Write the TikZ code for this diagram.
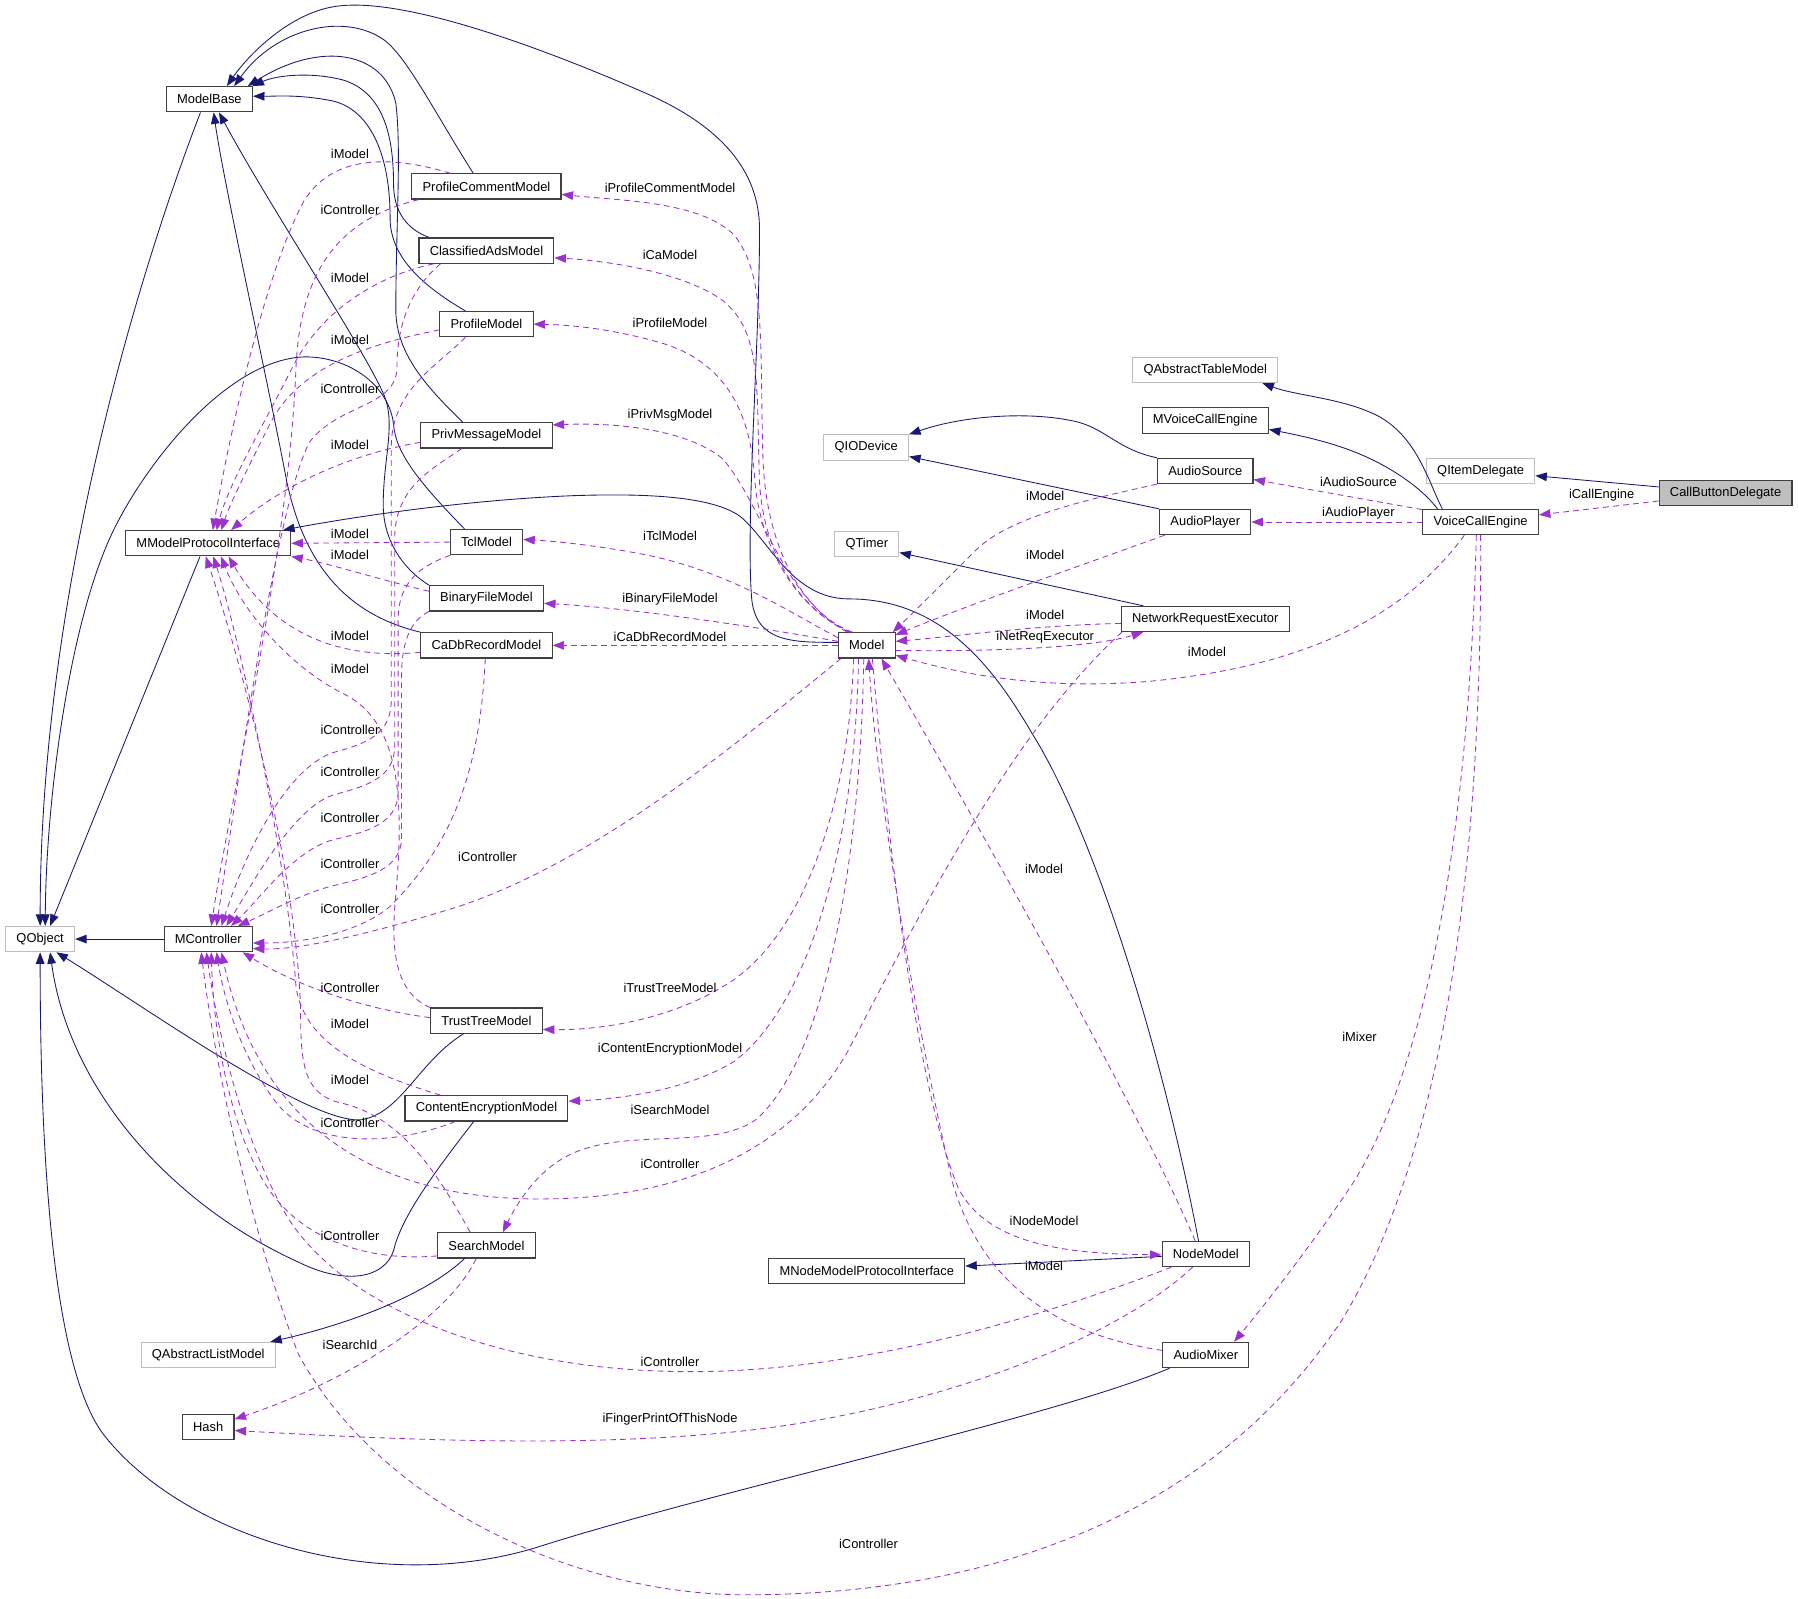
\documentclass[tikz,border=0pt]{standalone}
\usepackage{fontspec}
\setmainfont{Liberation Sans}
\usetikzlibrary{arrows.meta}
\definecolor{navy}{HTML}{191970}
\definecolor{orchid}{HTML}{9A32CD}
\definecolor{lightgray}{HTML}{BFBFBF}
\definecolor{boxline}{HTML}{404040}

\begin{document}
\begin{tikzpicture}[x=0.8pt, y=-0.8pt, font=\fontsize{9}{10}\selectfont,
    cls/.style={draw=boxline, fill=white, line width=0.8pt, minimum height=17.6pt, inner xsep=7.5pt, inner ysep=0pt},
    ext/.style={cls, draw=lightgray},
    sel/.style={cls, fill=lightgray},
    lbl/.style={inner sep=0pt},
    inherit/.style={draw=navy, line width=0.6pt, -{Triangle[length=8pt,width=6pt]}},
    member/.style={draw=orchid, line width=0.6pt, dash pattern=on 4pt off 3pt, -{Triangle[length=8pt,width=6pt]}}]
  \useasboundingbox (0,0) rectangle (1568,1393);

  \foreach \nm/\yy/\txt in {pcm/162.5/ProfileCommentModel, cam/218.5/ClassifiedAdsModel,
      pm/282.5/ProfileModel, pmm/379.5/PrivMessageModel, tcl/472.5/TclModel,
      bfm/521.5/BinaryFileModel, cadb/562.5/CaDbRecordModel, ttm/889.5/TrustTreeModel,
      cem/966/ContentEncryptionModel, search/1085.5/SearchModel}
    \node[cls] (\nm) at (424,\yy) {\txt};
  \node[cls] (mbase) at (182.5,86.5) {ModelBase};
  \node[cls] (mmpi) at (181.5,473.5) {MModelProtocolInterface};
  \node[cls] (mctrl) at (181.5,818.5) {MController};
  \node[ext] (qobj) at (35,818.5) {QObject};
  \node[ext] (qalm) at (181.5,1181) {QAbstractListModel};
  \node[cls] (hash) at (181.5,1244) {Hash};
  \node[cls] (model) at (755.5,562.5) {Model};
  \node[ext] (qiodev) at (755,390) {QIODevice};
  \node[ext] (qtimer) at (755.5,474) {QTimer};
  \node[cls] (mnmpi) at (755.5,1108) {MNodeModelProtocolInterface};
  \node[ext] (qatm) at (1050.5,322.5) {QAbstractTableModel};
  \node[cls] (mvce) at (1050.5,366.5) {MVoiceCallEngine};
  \node[cls] (asrc) at (1050.5,410.5) {AudioSource};
  \node[cls] (aplay) at (1050.5,455) {AudioPlayer};
  \node[cls] (nre) at (1050.5,539.5) {NetworkRequestExecutor};
  \node[cls] (nodem) at (1051,1093) {NodeModel};
  \node[cls] (mixer) at (1051,1181) {AudioMixer};
  \node[ext] (qitem) at (1290.5,410.5) {QItemDelegate};
  \node[cls] (vce) at (1290.5,455) {VoiceCallEngine};
  \node[sel] (cbd) at (1504,429.5) {CallButtonDelegate};

  \draw[inherit] (mbase.-124) .. controls (120,240) and (35,520) .. (qobj.north);
  \draw[inherit] (tcl.149) .. controls (365,420) and (345,395) .. (343,370) .. controls (340,340) and (310,312) .. (267,311)
    .. controls (200,312) and (130,400) .. (100,460) .. controls (60,540) and (40,700) .. (qobj.69);
  \draw[inherit] (mmpi.-122) -- (qobj.53);
  \draw[inherit] (mctrl.west) -- (qobj.east);
  \draw[inherit] (ttm.-150) .. controls (365,925) and (350,970) .. (315,976) .. controls (270,980) and (130,880) .. (qobj.-39);
  \draw[inherit] (cem.-134) .. controls (380,1020) and (350,1060) .. (343,1090) .. controls (335,1115) and (300,1120) .. (260,1100)
    .. controls (150,1050) and (60,950) .. (qobj.-53);
  \draw[inherit] (mixer.-160) .. controls (920,1235) and (620,1300) .. (470,1348) .. controls (330,1392) and (160,1340) .. (90,1250)
    .. controls (45,1190) and (35,1000) .. (qobj.south);
  \draw[inherit] (search.-149) .. controls (370,1130) and (300,1155) .. (qalm.12);
  \draw[inherit] (pcm.135) .. controls (380,100) and (355,50) .. (335,35) .. controls (300,10) and (240,25) .. (mbase.28);
  \draw[inherit] (pmm.151) .. controls (375,340) and (345,310) .. (345,270) .. controls (345,200) and (350,130) .. (345,90)
    .. controls (335,45) and (280,35) .. (mbase.19);
  \draw[inherit] (cam.167) .. controls (355,200) and (343,185) .. (343,160) .. controls (343,110) and (330,80) .. (300,70)
    .. controls (270,62) and (240,66) .. (mbase.17);
  \draw[inherit] (pm.148) .. controls (370,250) and (340,225) .. (340,190) .. controls (340,130) and (320,95) .. (290,88)
    .. controls (260,82) and (240,84) .. (mbase.4);
  \draw[inherit] (bfm.north west) .. controls (350,495) and (334,470) .. (334,440) .. controls (334,400) and (345,370) .. (335,345)
    .. controls (318,305) and (235,180) .. (mbase.-54);
  \draw[inherit] (cadb.north west) .. controls (300,535) and (265,490) .. (250,420) .. controls (235,340) and (195,160) .. (mbase.-72);
  \draw[inherit] (model.174) .. controls (690,560) and (658,560) .. (655,520) .. controls (650,450) and (662,300) .. (662,200)
    .. controls (662,150) and (630,110) .. (560,80) .. controls (480,45) and (350,-5) .. (290,6)
    .. controls (250,13) and (215,50) .. (mbase.37);
  \draw[inherit] (nodem.119) .. controls (1010,900) and (950,720) .. (900,640) .. controls (865,580) and (820,522) .. (740,522)
    .. controls (690,522) and (670,470) .. (645,450) .. controls (620,432) and (560,430) .. (500,432)
    .. controls (400,436) and (300,452) .. (mmpi.10);
  \draw[inherit] (nodem.183) -- (mnmpi.3);
  \draw[inherit] (asrc.north west) .. controls (975,392) and (965,375) .. (940,368) .. controls (900,358) and (840,362) .. (qiodev.17);
  \draw[inherit] (aplay.north west) -- (qiodev.-12);
  \draw[inherit] (nre.168) -- (qtimer.-15);
  \draw[inherit] (vce.161) .. controls (1245,420) and (1235,380) .. (1200,362) .. controls (1170,347) and (1130,345) .. (qatm.-13);
  \draw[inherit] (vce.163) .. controls (1235,420) and (1200,400) .. (1170,390) .. controls (1150,383) and (1125,378) .. (mvce.-8);
  \draw[inherit] (cbd.175) -- (qitem.-5);

  \draw[member] (cbd.187) -- (vce.7);
  \draw[member] (vce.168) -- (asrc.-10);
  \draw[member] (vce.west) -- (aplay.east);
  \draw[member] (vce.-141) .. controls (1230,530) and (1150,580) .. (1000,594) .. controls (900,602) and (830,585) .. (model.-19);
  \draw[member] (vce.-108) .. controls (1282,650) and (1260,900) .. (1180,1030) .. controls (1140,1090) and (1100,1140) .. (mixer.25);
  \draw[member] (vce.south) .. controls (1292,750) and (1260,1000) .. (1170,1150) .. controls (1050,1330) and (850,1390) .. (650,1390)
    .. controls (500,1390) and (330,1310) .. (260,1180) .. controls (225,1090) and (190,950) .. (mctrl.-118);

  \draw[member] (model.146) .. controls (700,530) and (668,480) .. (665,400) .. controls (662,300) and (668,240) .. (640,205)
    .. controls (610,175) and (540,175) .. (pcm.-6);
  \draw[member] (model.143) .. controls (695,530) and (665,480) .. (662,420) .. controls (659,340) and (665,290) .. (630,262)
    .. controls (600,240) and (540,228) .. (cam.-6);
  \draw[member] (model.140) .. controls (690,530) and (662,470) .. (658,420) .. controls (655,370) and (640,320) .. (580,300)
    .. controls (530,285) and (490,283) .. (pm.0);
  \draw[member] (model.137) .. controls (685,530) and (665,440) .. (630,400) .. controls (600,375) and (540,368) .. (pmm.9);
  \draw[member] (model.165) .. controls (690,535) and (640,500) .. (565,484) .. controls (530,477) and (490,472) .. (tcl.4);
  \draw[member] (model.172) .. controls (650,545) and (550,530) .. (bfm.-5);
  \draw[member] (model.west) -- (cadb.east);
  \draw[member] (model.-135) .. controls (740,700) and (700,820) .. (630,860) .. controls (580,890) and (520,898) .. (ttm.-9);
  \draw[member] (model.-122) .. controls (745,750) and (700,880) .. (640,925) .. controls (600,950) and (540,958) .. (cem.5);
  \draw[member] (model.-103) .. controls (750,750) and (720,920) .. (660,975) .. controls (620,1005) and (540,980) .. (490,1010)
    .. controls (465,1025) and (450,1050) .. (search.39);
  \draw[member] (model.-67) .. controls (775,750) and (800,950) .. (835,1035) .. controls (860,1085) and (930,1093) .. (nodem.181);
  \draw[member] (model.-10) .. controls (860,568) and (950,565) .. (nre.-168);
  \draw[member] (nre.183) .. controls (900,545) and (830,555) .. (model.8);
  \draw[member] (aplay.-162) .. controls (950,490) and (850,525) .. (model.20);
  \draw[member] (asrc.south west) .. controls (950,435) and (880,450) .. (850,480) .. controls (820,510) and (795,535) .. (model.27);
  \draw[member] (nodem.129) .. controls (990,960) and (830,680) .. (model.-42);
  \draw[member] (mixer.174) .. controls (900,1160) and (850,1100) .. (830,1030) .. controls (800,900) and (765,700) .. (model.-82);
  \draw[member] (model.-153) .. controls (640,650) and (520,750) .. (400,790) .. controls (320,815) and (260,828) .. (mctrl.-12);
  \draw[member] (nre.-171) .. controls (880,640) and (800,800) .. (738,918) .. controls (690,1000) and (600,1045) .. (470,1045)
    .. controls (350,1045) and (230,1000) .. (mctrl.-45);
  \draw[member] (nodem.-159) .. controls (850,1170) and (700,1200) .. (575,1195) .. controls (430,1190) and (300,1140) .. (250,1060)
    .. controls (210,990) and (190,900) .. (mctrl.-98);
  \draw[member] (nodem.-135) .. controls (980,1160) and (850,1215) .. (700,1240) .. controls (550,1265) and (350,1255) .. (hash.-7);
  \draw[member] (search.-128) .. controls (390,1150) and (300,1205) .. (hash.17);

  \draw[member] (pcm.160) .. controls (340,135) and (290,135) .. (265,175) .. controls (230,240) and (200,380) .. (mmpi.71);
  \draw[member] (cam.-166) .. controls (330,240) and (280,270) .. (255,320) .. controls (230,370) and (200,420) .. (mmpi.58);
  \draw[member] (pm.187) .. controls (320,300) and (260,320) .. (235,370) .. controls (215,410) and (200,440) .. (mmpi.45);
  \draw[member] (pmm.186) .. controls (310,395) and (250,420) .. (mmpi.30);
  \draw[member] (tcl.west) -- (mmpi.east);
  \draw[member] (bfm.173) .. controls (330,505) and (290,492) .. (mmpi.-9);
  \draw[member] (cadb.186) .. controls (300,575) and (240,555) .. (mmpi.-33);
  \draw[member] (ttm.167) .. controls (345,865) and (340,830) .. (345,780) .. controls (352,700) and (350,630) .. (300,605)
    .. controls (250,580) and (210,530) .. (mmpi.-46);
  \draw[member] (cem.164) .. controls (320,935) and (265,910) .. (258,860) .. controls (250,750) and (210,560) .. (mmpi.-69);
  \draw[member] (search.141) .. controls (380,1020) and (350,975) .. (300,962) .. controls (265,955) and (262,930) .. (262,880)
    .. controls (258,750) and (205,560) .. (mmpi.-101);

  \draw[member] (pcm.-169) .. controls (300,190) and (262,230) .. (258,320) .. controls (252,480) and (200,700) .. (mctrl.77);
  \draw[member] (cam.-164) .. controls (360,250) and (346,280) .. (346,320) .. controls (346,355) and (295,352) .. (270,385)
    .. controls (240,440) and (205,700) .. (mctrl.58);
  \draw[member] (pm.-148) .. controls (380,320) and (341,340) .. (341,390) -- (341,610) .. controls (341,640) and (320,648) .. (290,656)
    .. controls (250,670) and (215,740) .. (mctrl.45);
  \draw[member] (pmm.-152) .. controls (375,410) and (344,425) .. (344,470) -- (344,650) .. controls (344,678) and (320,685) .. (290,693)
    .. controls (255,705) and (220,770) .. (mctrl.36);
  \draw[member] (tcl.-160) .. controls (370,492) and (347,505) .. (347,540) -- (347,690) .. controls (347,718) and (320,725) .. (290,732)
    .. controls (255,742) and (225,785) .. (mctrl.30);
  \draw[member] (bfm.south west) .. controls (360,540) and (350,555) .. (350,590) -- (350,730) .. controls (350,758) and (320,765) .. (290,772)
    .. controls (260,780) and (235,795) .. (mctrl.24);
  \draw[member] (cadb.-95) .. controls (418,680) and (390,740) .. (340,790) .. controls (310,815) and (260,822) .. (mctrl.-5);
  \draw[member] (ttm.177) .. controls (320,880) and (260,860) .. (mctrl.-21);
  \draw[member] (cem.-157) .. controls (340,1000) and (270,1000) .. (240,960) .. controls (210,920) and (195,870) .. (mctrl.-58);
  \draw[member] (search.192) .. controls (320,1100) and (260,1080) .. (230,1030) .. controls (200,980) and (186,900) .. (mctrl.-77);

  \foreach[count=\i] \yy in {134,242,296,388,465,484,554,583,892,941}
    \node[lbl] (im\i) at (305,\yy) {iModel};
  \foreach[count=\i] \yy in {183,339,636,673,713,753,792,861,979,1077}
    \node[lbl] (ic\i) at (305,\yy) {iController};
  \foreach[count=\i] \xx/\yy/\txt in {425/747/iController, 584/164/iProfileCommentModel, 584/222/iCaModel,
      584/281/iProfileModel, 584/362/iPrivMsgModel, 584/467/iTclModel, 584/522/iBinaryFileModel,
      584/555/iCaDbRecordModel, 584/861/iTrustTreeModel, 584/914/iContentEncryptionModel,
      584/967/iSearchModel, 584/1014/iController, 584/1187/iController, 584/1237/iFingerPrintOfThisNode,
      305/1172/iSearchId, 757/1346/iController, 911/432/iModel, 911/484/iModel, 911/536/iModel,
      911/555/iNetReqExecutor, 1052/568/iModel, 910/757/iModel, 910/1064/iNodeModel, 910/1103/iModel,
      1185/904/iMixer, 1184/420/iAudioSource, 1184/447/iAudioPlayer, 1396/432/iCallEngine}
    \node[lbl] (lab\i) at (\xx,\yy) {\txt};
\end{tikzpicture}
\end{document}
